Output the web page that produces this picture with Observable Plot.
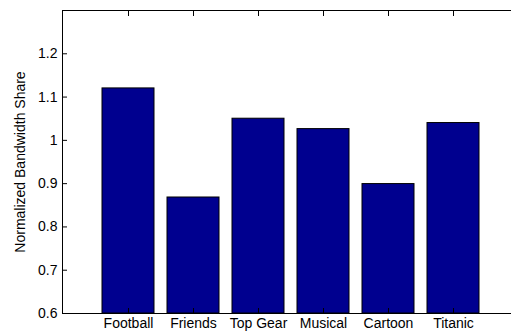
<!DOCTYPE html>
<html>
<head>
<meta charset="utf-8">
<script src="https://cdn.jsdelivr.net/npm/d3@7"></script>
<script src="https://cdn.jsdelivr.net/npm/@observablehq/plot@0.6"></script>
<style>
  html, body { margin: 0; padding: 0; background: #fff; overflow: hidden; }
  svg { display: block; overflow: hidden; }
</style>
</head>
<body>
<div id="chart"></div>
<script>
// Normalized bandwidth share per video
const videos = ["Football", "Friends", "Top Gear", "Musical", "Cartoon", "Titanic"];
const shares = [1.12, 0.868, 1.05, 1.026, 0.899, 1.04];
const yTicks = [0.6, 0.7, 0.8, 0.9, 1, 1.1, 1.2];
const yLabel = "Normalized Bandwidth Share";

const rows = videos.map((video, i) => ({video, share: shares[i]}));
const font = "Liberation Sans, Arial, sans-serif";
const blank = () => "";

const chart = Plot.plot({
  width: 511,
  height: 334,
  marginLeft: 62,
  marginRight: -7,
  marginTop: 10,
  marginBottom: 21,
  style: {fontFamily: font, fontSize: "14px", color: "#000", background: "#fff"},
  x: {type: "band", domain: videos, paddingInner: 0.2, paddingOuter: 0.6},
  y: {domain: [0.6, 1.3]},
  marks: [
    Plot.barY(rows, {x: "video", y1: 0.6, y2: "share", fill: "#00008f", stroke: "#000", strokeWidth: 1}),
    Plot.frame({stroke: "#000", strokeWidth: 1}),
    // ticks drawn inside the box on every side
    Plot.axisY(yTicks, {anchor: "left", tickSize: -5, tickPadding: 10, tickFormat: d => String(d), label: null}),
    Plot.axisY(yTicks, {anchor: "right", tickSize: -5, tickFormat: blank, label: null}),
    Plot.axisX(videos, {anchor: "bottom", tickSize: -5, tickPadding: 10, label: null}),
    Plot.axisX(videos, {anchor: "top", tickSize: -5, tickFormat: blank, label: null}),
    Plot.text([yLabel], {frameAnchor: "left", dx: -42, rotate: -90, textAnchor: "middle", text: d => d, fontSize: 14})
  ]
});
document.getElementById("chart").appendChild(chart);
</script>
</body>
</html>
